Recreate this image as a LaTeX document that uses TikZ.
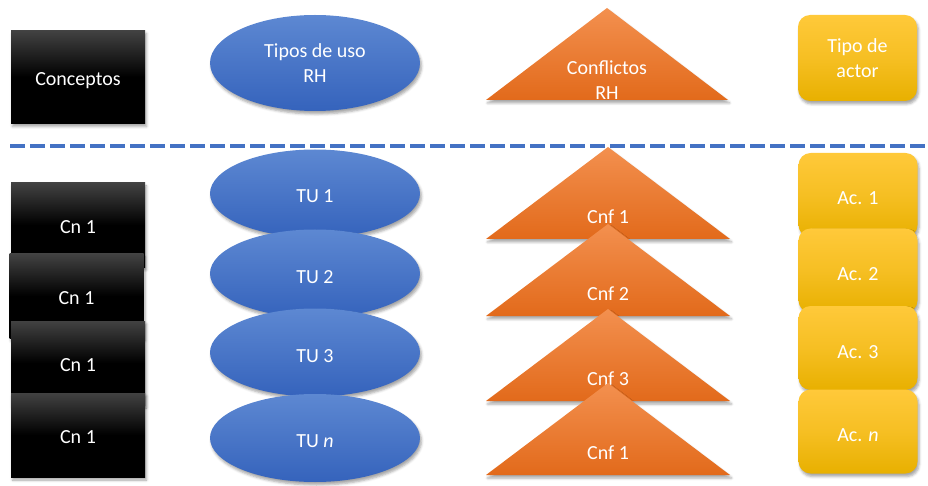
\documentclass[tikz,border=0pt]{standalone}
\usepackage{fontspec}
\setmainfont{Carlito}
\usepackage{tikz}
\usetikzlibrary{shapes.geometric,shadows.blur}
\definecolor{RHBlack}{HTML}{424242}
\definecolor{RHBlueTop}{HTML}{5D88D2}
\definecolor{RHBlueBot}{HTML}{3563BC}
\definecolor{RHDash}{HTML}{4472C4}
\definecolor{RHOrangeTop}{HTML}{F3904F}
\definecolor{RHOrangeBot}{HTML}{E26A1B}
\definecolor{RHYellowTop}{HTML}{FFC93A}
\definecolor{RHYellowBot}{HTML}{E8B000}

\tikzset{
  softshadow/.style={blur shadow={shadow xshift=1.5pt,shadow yshift=-3pt,
      shadow blur radius=2.5pt,shadow opacity=35}},
  cbox/.style={rectangle,softshadow,top color=RHBlack,bottom color=black,
      middle color=black,minimum width=134,minimum height=84,
      inner sep=0pt,text=white,text height=16.5pt,text depth=0pt},
  tuell/.style={ellipse,softshadow,top color=RHBlueTop,bottom color=RHBlueBot,
      minimum width=210,minimum height=88,inner sep=0pt,text=white,
      text height=19pt,text depth=0pt},
  cnftri/.style={softshadow,top color=RHOrangeTop,bottom color=RHOrangeBot},
  acbox/.style={rectangle,rounded corners=12pt,softshadow,
      top color=RHYellowTop,bottom color=RHYellowBot,middle color=RHYellowTop!60!RHYellowBot,
      minimum width=119,minimum height=84,inner sep=0pt,text=white,
      text height=20pt,text depth=0pt},
  wlbl/.style={text=white,inner sep=0pt,align=center},
  twoline/.style={align=center,text height={},text depth={}},
  sepline/.style={RHDash,line width=4.5pt,dash pattern=on 15pt off 5pt}
}

\begin{document}
\begin{tikzpicture}[x=1pt,y=1pt,font=\fontsize{20}{25}\selectfont]
  \path[use as bounding box] (0,0) rectangle (928,485);

  % header row
  \node[cbox,minimum height=93] (conc) at (78,408) {Conceptos};
  \node[tuell,twoline,minimum height=96] (tipos) at (315,422) {Tipos de uso\\RH};
  \path[cnftri] (486,385) -- (607,477) -- (728,385) -- cycle;
  \node[wlbl] (confl) at (607,405) {Conflictos\\RH};
  \node[acbox,twoline,minimum height=86] (tipoact) at (857.5,427) {Tipo de\\actor};

  % separator
  \coordinate (sepL) at (10,339);
  \coordinate (sepR) at (928,339);
  \draw[sepline] (sepL) -- (sepR);

  % stacked items
  \foreach \i/\x/\y in {1/78/260,2/76.5/189,3/78/122,4/78/50}
    \node[cbox] (cn\i) at (\x,\y) {Cn 1};

  \foreach \i/\y/\t in {1/291.5/1,2/211.5/2,3/132.5/3,4/47/\textit{n}}
    \node[tuell] (tu\i) at (315,\y) {TU \t};

  \foreach \i/\yb/\t in {1/246/1,2/169/2,3/84/3,4/10/1}{
    \path[cnftri] (486,\yb) -- (608,\yb+92) -- (730,\yb) -- cycle;
    \node[wlbl] (cnf\i) at (608,\yb+22) {Cnf \t};
  }

  \foreach \i/\y/\t in {1/290/1,2/214.5/2,3/137/3,4/53.5/\textit{n}}
    \node[acbox] (ac\i) at (858,\y) {Ac. \t};
\end{tikzpicture}
\end{document}
